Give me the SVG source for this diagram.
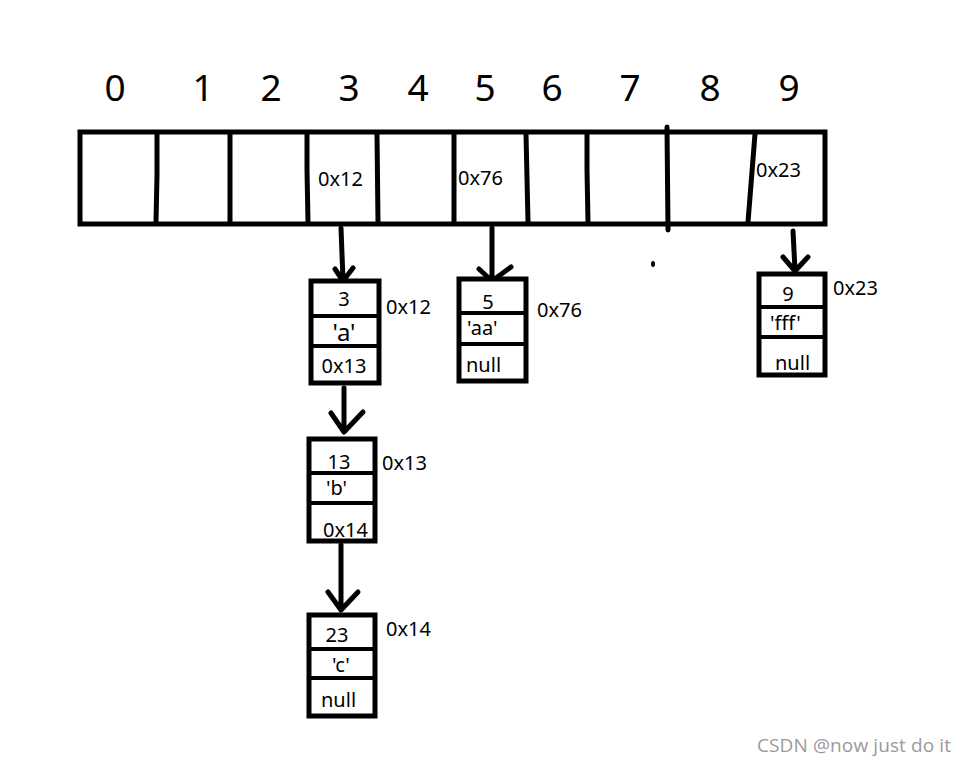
<svg xmlns="http://www.w3.org/2000/svg" width="967" height="767" viewBox="0 0 967 767">
<style>
.box{fill:#fff;stroke:#000;stroke-width:5}
.ln{fill:none;stroke:#000;stroke-width:5;stroke-linecap:round;stroke-linejoin:round}
.dv{fill:none;stroke:#000;stroke-width:4}
text{font-family:"Noto Sans","Open Sans","DejaVu Sans",sans-serif;fill:#000}
.idx{font-size:37px}
.t{font-size:20px}
.wm{font-family:"Open Sans","Noto Sans",sans-serif;font-size:19px;fill:#9a9a9a}
</style>
<rect width="967" height="767" fill="#fff"/>
<g id="array">
<rect class="box" x="80" y="132" width="745" height="92"/>
<path class="ln" d="M157 134 L157 175 L156 222 M230 134 L230 222 M307 134 L307 170 L308 222 M377 134 L378 222 M454 134 L454 222 M526 134 L528 222 M587 134 L587 170 L588 222 M667 127 L668 230 M755 134 L748 222"/>
<g class="idx">
<text x="115" y="101" text-anchor="middle">0</text>
<text x="203" y="101" text-anchor="middle">1</text>
<text x="271" y="101" text-anchor="middle">2</text>
<text x="349" y="101" text-anchor="middle">3</text>
<text x="418" y="101" text-anchor="middle">4</text>
<text x="485" y="101" text-anchor="middle">5</text>
<text x="552" y="101" text-anchor="middle">6</text>
<text x="630" y="101" text-anchor="middle">7</text>
<text x="710" y="101" text-anchor="middle">8</text>
<text x="789" y="101" text-anchor="middle">9</text>
</g>
<text class="t" x="318" y="186">0x12</text>
<text class="t" x="458" y="185">0x76</text>
<text class="t" x="756" y="177">0x23</text>
</g>
<g id="connectors">
<path class="ln" d="M341 228 L343 280 M335 269 L343 281 L353 268"/>
<path class="ln" d="M492 228 L492 280 M479 269 L492 281 L511 267"/>
<path class="ln" d="M793 231 L795 270 M783 257 L795 271 L808 257"/>
<path class="ln" d="M344 388 L344 431 M331 413 L344 432 L363 412"/>
<path class="ln" d="M341 545 L341 609 M328 592 L341 610 L358 592"/>
</g>
<g id="node-3a">
<rect class="box" x="311" y="281" width="68" height="102"/>
<path class="dv" d="M311 316 L379 316 M311 346 L379 346"/>
<text class="t" x="344" y="306" text-anchor="middle">3</text>
<text x="344" y="341" text-anchor="middle" font-size="24">'a'</text>
<text class="t" x="344" y="373" text-anchor="middle">0x13</text>
<text class="t" x="386" y="314">0x12</text>
</g>
<g id="node-5aa">
<rect class="box" x="459" y="279" width="67" height="102"/>
<path class="dv" d="M459 313 L526 313 M459 344 L526 344"/>
<text class="t" x="488" y="309" text-anchor="middle">5</text>
<text class="t" x="467" y="335">'aa'</text>
<text class="t" x="466" y="372">null</text>
<text class="t" x="537" y="317">0x76</text>
</g>
<g id="node-9fff">
<rect class="box" x="759" y="274" width="66" height="101"/>
<path class="dv" d="M759 307 L825 307 M759 337 L825 337"/>
<text class="t" x="788" y="301" text-anchor="middle">9</text>
<text class="t" x="770" y="330">'fff'</text>
<text class="t" x="775" y="370">null</text>
<text class="t" x="833" y="295">0x23</text>
</g>
<g id="node-13b">
<rect class="box" x="309" y="439" width="66" height="102"/>
<path class="dv" d="M309 473 L375 473 M309 503 L375 503"/>
<text class="t" x="339" y="469" text-anchor="middle">13</text>
<text class="t" x="326" y="495">'b'</text>
<text class="t" x="323" y="537">0x14</text>
<text class="t" x="382" y="470">0x13</text>
</g>
<g id="node-23c">
<rect class="box" x="309" y="615" width="66" height="101"/>
<path class="dv" d="M309 649 L375 649 M309 678 L375 678"/>
<text class="t" x="337" y="642" text-anchor="middle">23</text>
<text class="t" x="332" y="672">'c'</text>
<text class="t" x="321" y="707">null</text>
<text class="t" x="386" y="636">0x14</text>
</g>
<ellipse cx="653" cy="264" rx="2" ry="3" fill="#000"/>
<text class="wm" x="757" y="752" textLength="194">CSDN @now just do it</text>
</svg>
